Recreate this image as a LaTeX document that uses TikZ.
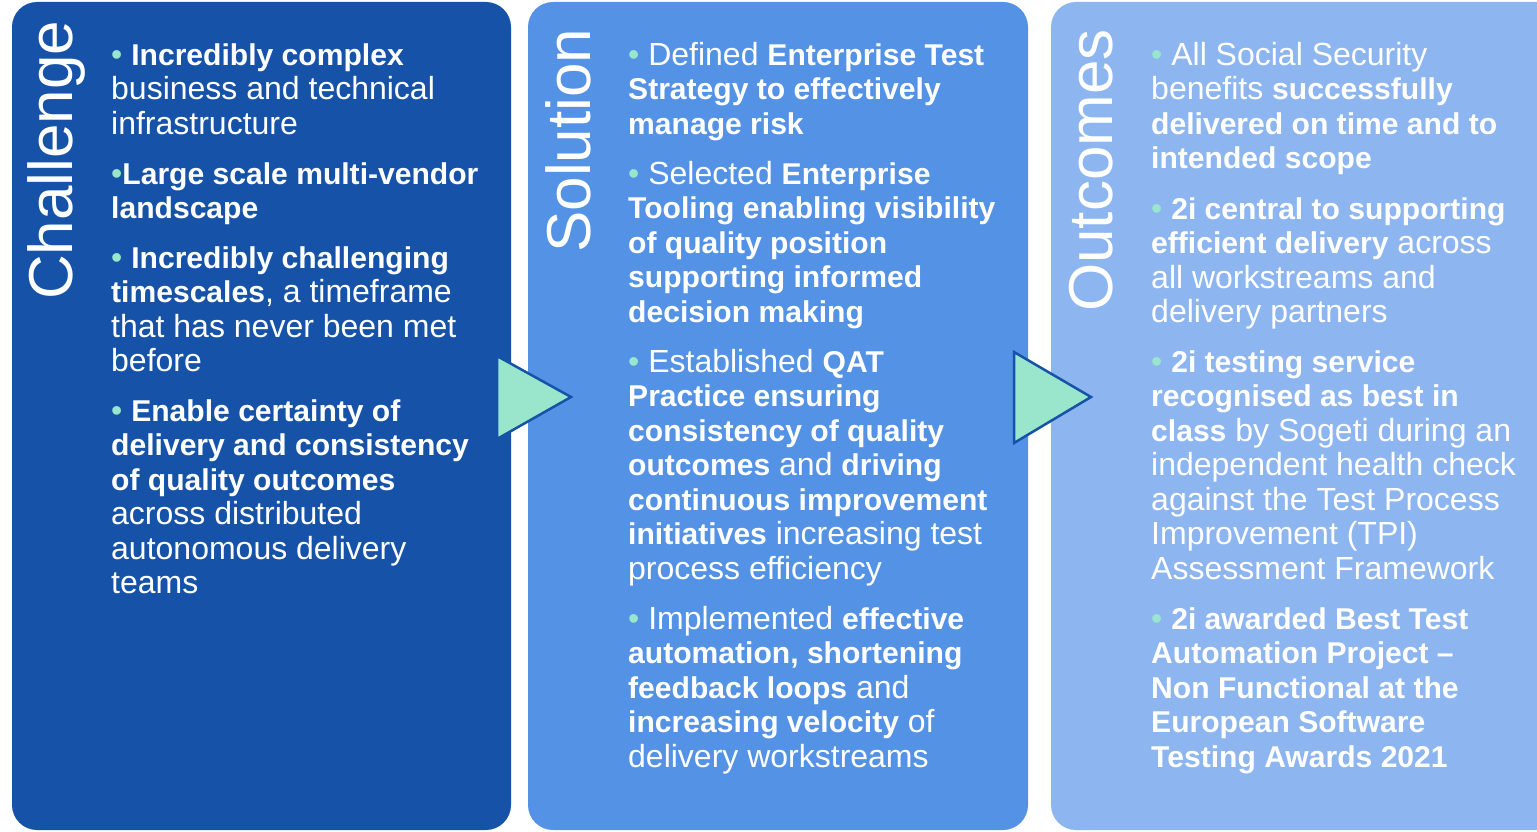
\documentclass[tikz,border=0pt]{standalone}
\usepackage{fontspec}
\setmainfont{Liberation Sans}[BoldFeatures={Scale=0.94}]
\usepackage{xcolor}
\definecolor{deepblue}{RGB}{22,83,168}
\definecolor{midblue}{RGB}{84,146,230}
\definecolor{paleblue}{RGB}{141,181,239}
\definecolor{mint}{RGB}{154,230,204}
\newcommand{\dotb}{\rule{0pt}{25pt}{\color{mint}\textbullet}}
\tikzset{
  panel/.style={rounded corners=25pt},
  pointer/.style={fill=mint, draw=deepblue, line width=2.5pt, line join=miter},
  heading/.style={rotate=90, anchor=base west, inner sep=0pt, text=white, font=\fontsize{62}{62}\selectfont},
  bullets/.style={anchor=north west, inner sep=0pt, align=left, text=white, font=\fontsize{32}{34.5}\selectfont}
}

\begin{document}
\begin{tikzpicture}[x=1pt, y=-1pt]
		\useasboundingbox (0,0) rectangle (1537,832);
		% panels
		\fill[panel, deepblue] (12,2) rectangle (511,830);
		\fill[panel, midblue] (528,2) rectangle (1028,830);
		\fill[panel, paleblue] (1051,2) rectangle (1562,830);
		% pointers
		\draw[pointer] (497,356) -- (571,397) -- (497,439) -- cycle;
		\draw[pointer] (1014,352) -- (1091,397) -- (1014,443) -- cycle;
		% headings
		\node[heading] (challenge) at (72,300) {Challenge};
		\node[heading] (solution) at (590,253) {Solution};
		\node[heading] (outcomes) at (1112,312) {Outcomes};
		
		% challenge
		\node[bullets] (c1) at (111,40) {\dotb\ \textbf{Incredibly complex}\\business and technical\\infrastructure};
		\node[bullets] (c2) at (111,159) {\dotb\textbf{Large scale multi-vendor}\\\textbf{landscape}};
		\node[bullets] (c3) at (111,243) {\dotb\ \textbf{Incredibly challenging}\\\textbf{timescales}, a timeframe\\that has never been met\\before};
		\node[bullets] (c4) at (111,396) {\dotb\ \textbf{Enable certainty of}\\\textbf{delivery and consistency}\\\textbf{of quality outcomes}\\across distributed\\autonomous delivery\\teams};
		
		% solution
		\node[bullets] (s1) at (628,40) {\dotb\ Defined \textbf{Enterprise Test}\\\textbf{Strategy to effectively}\\\textbf{manage risk}};
		\node[bullets] (s2) at (628,159) {\dotb\ Selected \textbf{Enterprise}\\\textbf{Tooling enabling visibility}\\\textbf{of quality position}\\\textbf{supporting informed}\\\textbf{decision making}};
		\node[bullets] (s3) at (628,347) {\dotb\ Established \textbf{QAT}\\\textbf{Practice ensuring}\\\textbf{consistency of quality}\\\textbf{outcomes} and \textbf{driving}\\\textbf{continuous improvement}\\\textbf{initiatives} increasing test\\process efficiency};
		\node[bullets] (s4) at (628,604) {\dotb\ Implemented \textbf{effective}\\\textbf{automation, shortening}\\\textbf{feedback loops} and\\\textbf{increasing velocity} of\\delivery workstreams};
		
		% outcomes
		\node[bullets] (o1) at (1151,40) {\dotb\ All Social Security\\benefits \textbf{successfully}\\\textbf{delivered on time and to}\\\textbf{intended scope}};
		\node[bullets] (o2) at (1151,194) {\dotb\ \textbf{2i central to supporting}\\\textbf{efficient delivery} across\\all workstreams and\\delivery partners};
		\node[bullets] (o3) at (1151,347) {\dotb\ \textbf{2i testing service}\\\textbf{recognised as best in}\\\textbf{class} by Sogeti during an\\independent health check\\against the Test Process\\Improvement (TPI)\\Assessment Framework};
		\node[bullets] (o4) at (1151,604) {\dotb\ \textbf{2i awarded Best Test}\\\textbf{Automation Project –}\\\textbf{Non Functional at the}\\\textbf{European Software}\\\textbf{Testing Awards 2021}};
	\end{tikzpicture}
\end{document}
